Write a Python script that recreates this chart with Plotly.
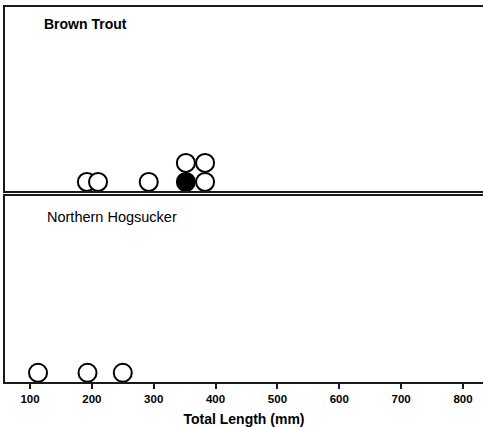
import plotly.graph_objects as go
from collections import Counter

# Data
brown_trout_lengths = [192, 210, 292, 352, 383, 352, 383]
brown_trout_filled = [False, False, False, True, False, False, False]
hogsucker_lengths = [113, 193, 250]
hogsucker_filled = [False, False, False]
x_ticks = [100, 200, 300, 400, 500, 600, 700, 800]
panel_titles = ["Brown Trout", "Northern Hogsucker"]


def stack_levels(values):
    seen = Counter()
    levels = []
    for v in values:
        levels.append(seen[v])
        seen[v] += 1
    return levels


fig = go.Figure()

LINE = "#1a1a1a"

for i, (vals, filled) in enumerate([(brown_trout_lengths, brown_trout_filled),
                                     (hogsucker_lengths, hogsucker_filled)]):
    levels = stack_levels(vals)
    xa = "x" if i == 0 else "x2"
    ya = "y" if i == 0 else "y2"
    fig.add_trace(go.Scatter(
        x=vals, y=levels, mode="markers", xaxis=xa, yaxis=ya,
        marker=dict(size=18,
                    color=["black" if f else "white" for f in filled],
                    line=dict(color="black", width=2)),
        showlegend=False, hoverinfo="x"))

xr = [59.6, 832.3]
yr = [-0.48, 9.2]

common_x = dict(range=xr, showgrid=False, zeroline=False, showline=True,
                linecolor=LINE, linewidth=2, mirror=True)
common_y = dict(range=yr, showgrid=False, zeroline=False, showline=True,
                linecolor=LINE, linewidth=2, mirror=False, showticklabels=False,
                ticks="")

fig.update_layout(
    width=483, height=427,
    margin=dict(l=5, r=0, t=7, b=45),
    paper_bgcolor="white", plot_bgcolor="white",
    font=dict(family="Arial, Liberation Sans, sans-serif", color="black"),
    xaxis=dict(**common_x, domain=[0, 1], anchor="y", showticklabels=False,
               ticks="", matches="x2"),
    yaxis=dict(**common_y, domain=[0.5093, 1.0], anchor="x"),
    xaxis2=dict(**common_x, anchor="y2", tickvals=x_ticks, ticks="outside",
                ticklen=5, tickwidth=1.5, tickcolor=LINE,
                tickfont=dict(size=11.5, weight="bold", color="black"),
                title=dict(text="Total Length (mm)", standoff=11,
                           font=dict(size=14, weight="bold", color="black"))),
    yaxis2=dict(**common_y, domain=[0.0, 0.496], anchor="x2"),
)

fig.add_annotation(text=panel_titles[0], xref="x domain", yref="y domain",
                   x=0.0775, y=0.908, xanchor="left", yanchor="middle",
                   showarrow=False, font=dict(size=14, weight="bold", color="black"))
fig.add_annotation(text=panel_titles[1], xref="x2 domain", yref="y2 domain",
                   x=0.0845, y=0.889, xanchor="left", yanchor="middle",
                   showarrow=False, font=dict(size=14.5, color="black"))

fig.write_html("out.html")
